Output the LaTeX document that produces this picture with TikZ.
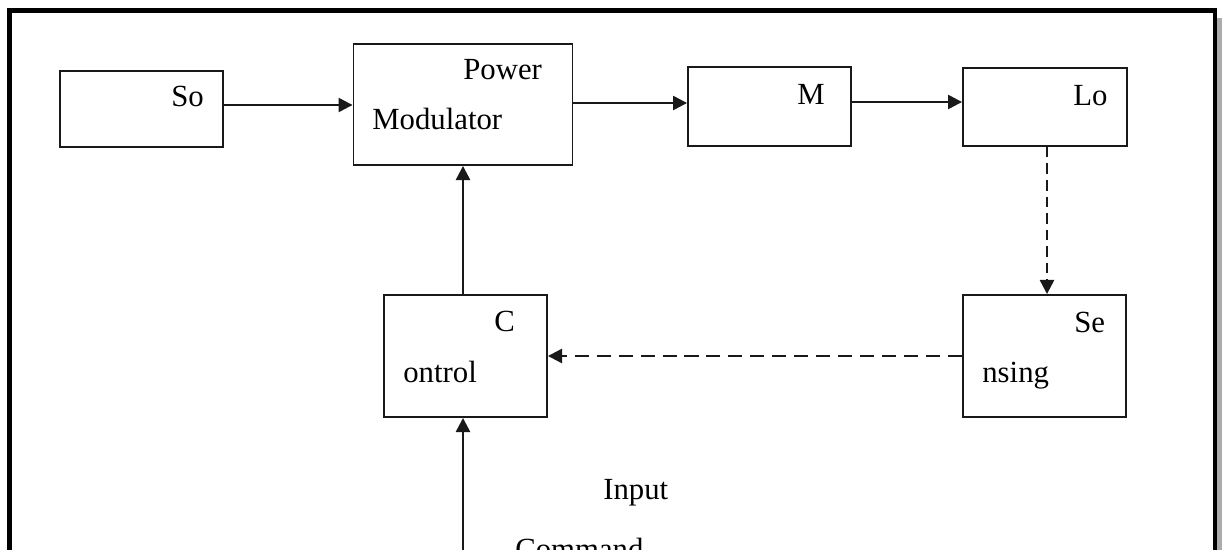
\documentclass[tikz,border=0pt]{standalone}
\usepackage{fontspec}
\setmainfont{Liberation Serif}
\usetikzlibrary{arrows.meta}
\tikzset{
  blk/.style={draw=black!90, line width=1.1pt, rectangle, inner sep=0pt},
  lbl/.style={anchor=base west, inner sep=0pt, font=\fontsize{17.5}{20}\selectfont},
  arr/.style={draw=black!90, line width=1.3pt, -{Triangle[length=8pt,width=8pt]}},
  darr/.style={arr, dash pattern=on 6pt off 3.4pt},
  frame/.style={draw=black, line width=2.4pt}
}
\begin{document}
\begin{tikzpicture}[x=0.02cm,y=-0.02cm]
\useasboundingbox (0,0) rectangle (1222,550);
% shadow and frame
\fill[gray!65] (1217,18) rectangle (1222,550);
\draw[frame] (9.5,560) -- (9.5,10.5) -- (1215,10.5) -- (1215,560);
% blocks
\node[blk, minimum width=3.26cm, minimum height=1.52cm] (So) at (141.5,109) {};
\node[blk, minimum width=4.38cm, minimum height=2.42cm] (PM) at (463,104.5) {};
\node[blk, minimum width=3.26cm, minimum height=1.58cm] (M) at (769.5,106.5) {};
\node[blk, minimum width=3.28cm, minimum height=1.56cm] (Lo) at (1045,107) {};
\node[blk, minimum width=3.26cm, minimum height=2.44cm] (Ctrl) at (465.5,356) {};
\node[blk, minimum width=3.26cm, minimum height=2.44cm] (Se) at (1044.5,356) {};
% labels
\node[lbl] (tSo) at (171,107) {So};
\node[lbl] (tPow) at (463,80) {Power};
\node[lbl] (tMod) at (372,130) {Modulator};
\node[lbl] (tM) at (797,105) {M};
\node[lbl] (tLo) at (1073,106) {Lo};
\node[lbl] (tC) at (494,331) {C};
\node[lbl] (tCon) at (403,382) {ontrol};
\node[lbl] (tSe) at (1074,332) {Se};
\node[lbl] (tNs) at (982,382) {nsing};
\node[lbl] (tIn) at (603,499) {Input};
\node[lbl] (tCmd) at (515,559) {Command};
% connectors
\coordinate (inp) at (463,560);
\draw[arr] ([yshift=0.08cm]So.east) -- ([yshift=0.08cm]So.east -| PM.west);
\draw[arr] ([yshift=0.07cm]M.west -| PM.east) -- ([yshift=0.07cm]M.west);
\draw[arr] ([yshift=0.09cm]M.east) -- ([yshift=0.09cm]M.east -| Lo.west);
\draw[darr] ([xshift=0.04cm]Lo.south) -- ([xshift=0.04cm]Lo.south |- Se.north);
\draw[darr, dash pattern=on 8pt off 4.5pt] (Se.west) -- (Ctrl.east);
\draw[arr] (Ctrl.north -| PM.south) -- (PM.south);
\draw[arr] (inp) -- (inp |- Ctrl.south);
\end{tikzpicture}
\end{document}
